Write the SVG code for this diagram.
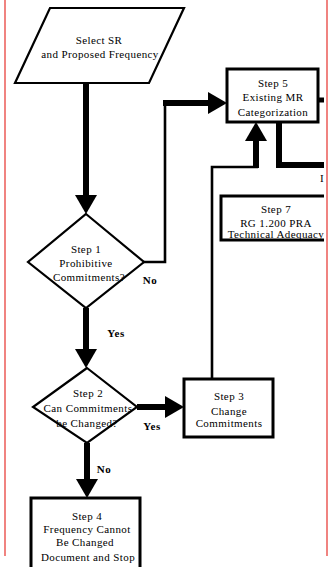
<svg xmlns="http://www.w3.org/2000/svg" width="331" height="567" viewBox="0 0 331 567">
  <style>
    .shape { fill: #ffffff; stroke: #000000; stroke-width: 2.2; }
    .box { fill: #ffffff; stroke: #000000; stroke-width: 3; }
    .lbl { font-family: "Liberation Serif", "Times New Roman", serif; font-size: 11px; letter-spacing: 0.4px; text-anchor: middle; fill: #000000; }
    .tag { font-family: "Liberation Serif", "Times New Roman", serif; font-size: 11px; font-weight: bold; letter-spacing: 0.5px; text-anchor: middle; fill: #000000; }
    .thick { fill: none; stroke: #000000; stroke-width: 6; }
    .thin { fill: none; stroke: #000000; stroke-width: 2.6; }
    .frame { stroke: #e8413c; stroke-width: 1.3; }
  </style>
  <defs>
    <marker id="head" markerUnits="userSpaceOnUse" viewBox="0 0 19 22" markerWidth="19" markerHeight="22" refX="0" refY="11" orient="auto" overflow="visible">
      <path d="M0,0 L19,11 L0,22 Z" fill="#000000"/>
    </marker>
    <clipPath id="page">
      <rect x="0" y="0" width="324" height="567"/>
    </clipPath>
  </defs>

  <rect x="0" y="0" width="331" height="567" fill="#ffffff"/>

  <g clip-path="url(#page)">
    <!-- connectors -->
    <g id="connectors">
      <path class="thick" d="M86,83 V195" marker-end="url(#head)"/>
      <path class="thick" d="M86,308 V349" marker-end="url(#head)"/>
      <path class="thick" d="M137,407 H165" marker-end="url(#head)"/>
      <path class="thick" d="M87,443 V479" marker-end="url(#head)"/>
      <path class="thin" d="M143,262 H165 V103"/>
      <path class="thick" d="M163,103 H208" marker-end="url(#head)"/>
      <path class="thin" d="M212,379 V167 H258"/>
      <path class="thick" d="M256,168 V141" marker-end="url(#head)"/>
      <path class="thick" d="M279,122 V165 H331"/>
      <path class="thick" d="M318,100 H331" style="stroke-width:5"/>
    </g>

    <g id="select-sr">
      <polygon class="shape" points="50,8 184,8 149,83 15,83"/>
      <text class="lbl" x="99" y="44">Select SR</text>
      <text class="lbl" x="100" y="58">and Proposed Frequency</text>
    </g>

    <g id="step1">
      <polygon class="shape" points="86,214 144,262 86,308 28,262"/>
      <text class="lbl" x="86" y="253">Step 1</text>
      <text class="lbl" x="86" y="267">Prohibitive</text>
      <text class="lbl" x="89" y="281">Commitments?</text>
    </g>

    <g id="step2">
      <polygon class="shape" points="87,368 137,407 87,443 33,407"/>
      <text class="lbl" x="88" y="397">Step 2</text>
      <text class="lbl" x="88" y="412">Can Commitments</text>
      <text class="lbl" x="87" y="427">be Changed?</text>
    </g>

    <g id="step3">
      <rect class="box" x="184" y="379" width="89" height="58"/>
      <text class="lbl" x="229" y="400">Step 3</text>
      <text class="lbl" x="229" y="415">Change</text>
      <text class="lbl" x="229" y="427">Commitments</text>
    </g>

    <g id="step4">
      <rect class="box" x="31" y="498" width="109" height="80"/>
      <text class="lbl" x="87" y="520">Step 4</text>
      <text class="lbl" x="87" y="533">Frequency Cannot</text>
      <text class="lbl" x="85" y="546">Be Changed</text>
      <text class="lbl" x="88" y="561">Document and Stop</text>
    </g>

    <g id="step5">
      <rect class="box" x="227" y="69" width="91" height="53"/>
      <text class="lbl" x="273" y="87">Step 5</text>
      <text class="lbl" x="273" y="101">Existing MR</text>
      <text class="lbl" x="273" y="116">Categorization</text>
    </g>

    <g id="step7">
      <rect class="box" x="221" y="196" width="120" height="44"/>
      <text class="lbl" x="276" y="213">Step 7</text>
      <text class="lbl" x="276" y="227">RG 1.200 PRA</text>
      <text class="lbl" x="276" y="238">Technical Adequacy</text>
    </g>

    <g id="labels">
      <text class="tag" x="150" y="284">No</text>
      <text class="tag" x="116" y="337">Yes</text>
      <text class="tag" x="152" y="430">Yes</text>
      <text class="tag" x="104" y="473">No</text>
      <text class="lbl" x="322" y="182">I</text>
    </g>
  </g>

  <!-- page margins -->
  <line class="frame" x1="5" y1="0" x2="5" y2="556"/>
  <line class="frame" x1="327" y1="0" x2="327" y2="556"/>
</svg>
